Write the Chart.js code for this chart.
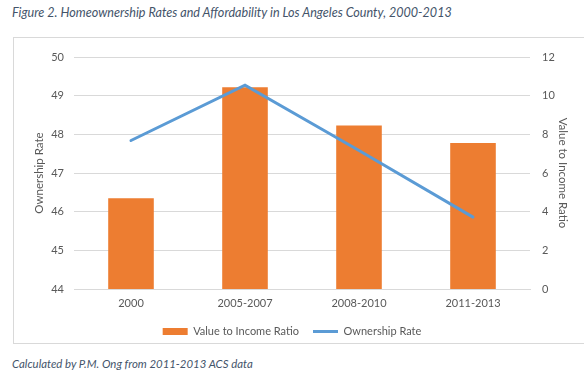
<!DOCTYPE html>
<html>
<head>
<meta charset="utf-8">
<script src="https://cdn.jsdelivr.net/npm/chart.js@4.4.1/dist/chart.umd.min.js"></script>
<style>
  html, body { margin: 0; padding: 0; background: #ffffff; }
  body { width: 584px; height: 380px; position: relative; overflow: hidden; font-family: Lato, "Liberation Sans", sans-serif; }
  #title { position: absolute; left: 12px; top: 5px; font-style: italic; font-size: 12.6px; color: #44546A; white-space: nowrap; }
  #footer { position: absolute; left: 12px; top: 357px; font-style: italic; font-size: 11.4px; color: #44546A; white-space: nowrap; }
  #frame { position: absolute; left: 13px; top: 37px; width: 590px; height: 305px; border: 1px solid #d9d9d9; }
  #wrap { position: absolute; left: 0; top: 0; width: 584px; height: 380px; }
</style>
</head>
<body>
<div id="frame"></div>
<div id="title">Figure 2. Homeownership Rates and Affordability in Los Angeles County, 2000-2013</div>
<div id="footer">Calculated by P.M. Ong from 2011-2013 ACS data</div>
<div id="wrap"><canvas id="c" width="584" height="380"></canvas></div>
<script>
const categories = ["2000", "2005-2007", "2008-2010", "2011-2013"];
const valueToIncomeRatio = [4.7, 10.43, 8.46, 7.55];
const ownershipRate = [47.84, 49.27, 47.58, 45.86];
const leftTicks = [44, 45, 46, 47, 48, 49, 50];
const rightTicks = [0, 2, 4, 6, 8, 10, 12];

const fontFamily = "Lato, 'Liberation Sans', sans-serif";
const tickFont = { family: fontFamily, size: 11 };
const tickColor = "#595959";

const chart = new Chart(document.getElementById("c"), {
  data: {
    labels: categories,
    datasets: [
      {
        type: "line",
        label: "Ownership Rate",
        data: ownershipRate,
        yAxisID: "y",
        borderColor: "#5B9BD5",
        backgroundColor: "#5B9BD5",
        borderWidth: 3,
        pointRadius: 0,
        pointHoverRadius: 0,
        pointStyle: "line",
        tension: 0,
        borderCapStyle: "round",
        order: 0
      },
      {
        type: "bar",
        label: "Value to Income Ratio",
        data: valueToIncomeRatio,
        yAxisID: "y1",
        backgroundColor: "#ED7D31",
        borderWidth: 0,
        pointStyle: "rect",
        categoryPercentage: 0.8,
        barPercentage: 0.5,
        order: 1
      }
    ]
  },
  options: {
    responsive: false,
    animation: false,
    layout: { padding: { top: 57, left: 0, right: 0, bottom: 33 } },
    plugins: {
      tooltip: { enabled: false },
      legend: {
        position: "bottom",
        reverse: true,
        labels: {
          usePointStyle: true,
          pointStyleWidth: 25,
          boxHeight: 7,
          padding: 14,
          color: tickColor,
          font: tickFont
        }
      }
    },
    scales: {
      x: {
        grid: { display: false, drawTicks: false },
        border: { display: true, color: "#d9d9d9", width: 1 },
        ticks: { color: tickColor, font: tickFont, padding: 8 },
        afterFit: (s) => { s.height = 23; }
      },
      y: {
        position: "left",
        min: 44, max: 50,
        afterBuildTicks: (s) => { s.ticks = leftTicks.map(v => ({ value: v })); },
        grid: { color: "#d9d9d9", drawTicks: false },
        border: { display: false },
        ticks: { color: tickColor, font: tickFont, padding: 10 },
        title: { display: true, text: "Ownership Rate", color: tickColor, font: { family: fontFamily, size: 11.5 }, padding: { top: 32, bottom: 0 } },
        afterFit: (s) => { s.width = 74; }
      },
      y1: {
        position: "right",
        min: 0, max: 12,
        afterBuildTicks: (s) => { s.ticks = rightTicks.map(v => ({ value: v })); },
        grid: { display: false, drawTicks: false },
        border: { display: false },
        ticks: { color: tickColor, font: tickFont, padding: 12 },
        title: { display: true, text: "Value to Income Ratio", color: tickColor, font: { family: fontFamily, size: 11.5 }, padding: { top: 14, bottom: 0 } },
        afterFit: (s) => { s.width = 54; }
      }
    }
  }
});
</script>
</body>
</html>
